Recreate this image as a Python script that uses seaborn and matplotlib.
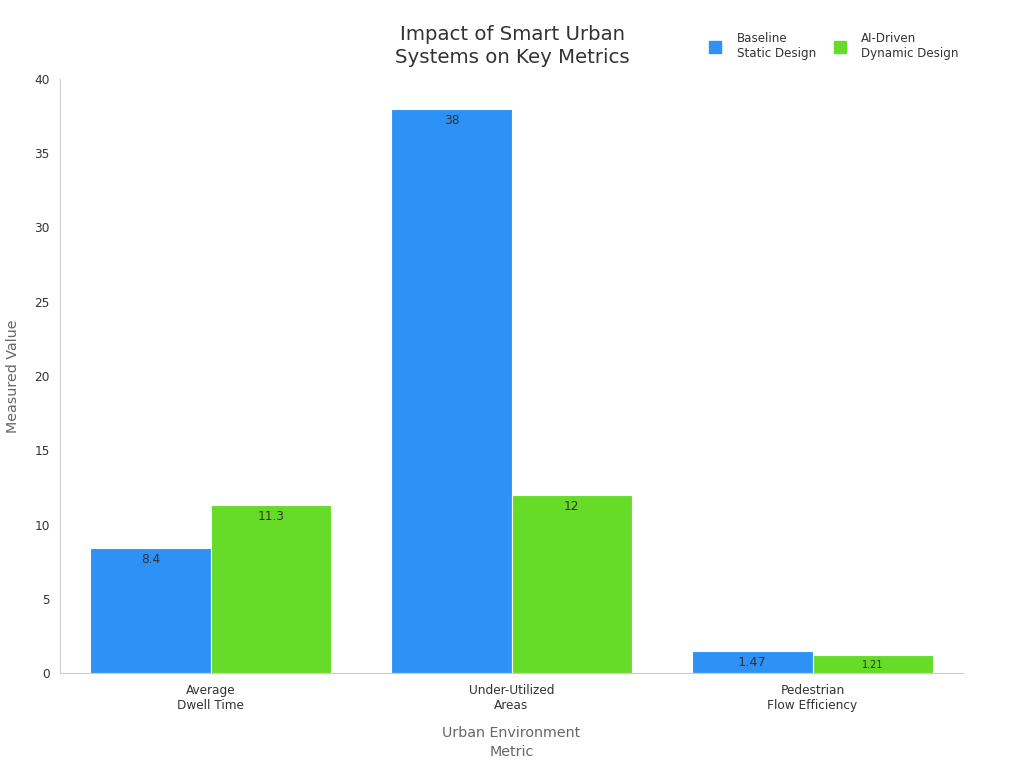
import matplotlib
matplotlib.use("Agg")
import matplotlib.pyplot as plt
import seaborn as sns
import pandas as pd
from matplotlib.lines import Line2D

categories = ["Average\nDwell Time", "Under-Utilized\nAreas", "Pedestrian\nFlow Efficiency"]
series_names = ["Baseline\nStatic Design", "AI-Driven\nDynamic Design"]
baseline_values = [8.4, 38, 1.47]
ai_values = [11.3, 12, 1.21]
value_labels_baseline = ["8.4", "38", "1.47"]
value_labels_ai = ["11.3", "12", "1.21"]
colors = ["#2E91F5", "#66DC28"]

df = pd.DataFrame({
    "Metric": categories * 2,
    "Value": baseline_values + ai_values,
    "Series": [series_names[0]] * 3 + [series_names[1]] * 3,
})

sns.set_theme(style="white")
plt.rcParams['font.family'] = ['DejaVu Sans']

fig = plt.figure(figsize=(10.24, 7.68), dpi=100)
ax = fig.add_axes([60/1024, 1 - 673/768, (963-60)/1024, (673-79)/768])

sns.barplot(data=df, x="Metric", y="Value", hue="Series", palette=colors,
            width=0.8, edgecolor="white", linewidth=0.8, ax=ax, legend=False,
            saturation=1)

ax.set_xlim(-0.5, 2.5)
ax.set_ylim(0, 40)
ax.set_yticks(range(0, 41, 5))
ax.tick_params(axis="both", labelsize=8.7, colors="#333333", length=4, width=0.8)
ax.tick_params(axis="x", pad=4)
for s in ["top", "right"]:
    ax.spines[s].set_visible(False)
for s in ["left", "bottom"]:
    ax.spines[s].set_color("#cccccc")
    ax.spines[s].set_linewidth(0.8)
ax.tick_params(axis="both", color="#888888")

ax.set_xlabel("Urban Environment\nMetric", fontsize=10.3, color="#666666", labelpad=10,
              linespacing=1.45)
ax.set_ylabel("Measured Value", fontsize=10.3, color="#666666", labelpad=10)

# value labels
label_sets = [value_labels_baseline, value_labels_ai]
sizes = [[8.7, 8.7, 9.3], [8.7, 8.7, 7]]
for ci, cont in enumerate(ax.containers):
    for bi, bar in enumerate(cont):
        x = bar.get_x() + bar.get_width() / 2
        h = bar.get_height()
        ax.annotate(label_sets[ci][bi], (x, h), xytext=(0, -3.5), textcoords="offset points",
                    ha="center", va="top", fontsize=sizes[ci][bi], color="#333333")

fig.text(512/1024, 1 - 46/768, "Impact of Smart Urban\nSystems on Key Metrics",
         ha="center", va="center", fontsize=14.2, color="#333333", linespacing=1.3)

handles = [Line2D([0], [0], marker="s", linestyle="", markersize=8,
                  markerfacecolor=c, markeredgecolor=c) for c in colors]
fig.legend(handles, series_names, loc="center", bbox_to_anchor=(831/1024, 1 - 46/768),
           ncol=2, frameon=False, fontsize=8.6, handletextpad=0.8, columnspacing=1.0,
           labelcolor="#333333")

fig.savefig("out.png", dpi=100, facecolor="white")
